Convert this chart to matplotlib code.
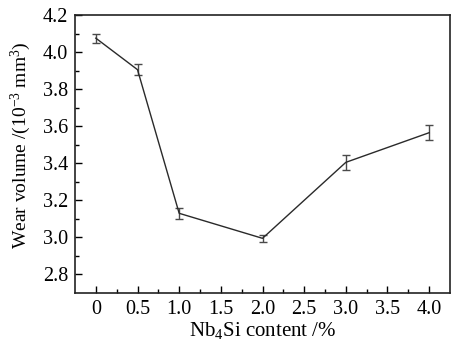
import matplotlib.pyplot as plt

# Nb4Si content (%) and wear volume (10^-3 mm^3)
content = [0, 0.5, 1.0, 2.0, 3.0, 4.0]
wear_volume = [4.075, 3.905, 3.13, 2.995, 3.405, 3.565]
wear_error = [0.025, 0.03, 0.03, 0.02, 0.04, 0.04]

x_ticks = [0, 0.5, 1.0, 1.5, 2.0, 2.5, 3.0, 3.5, 4.0]
x_labels = ["0", "0.5", "1.0", "1.5", "2.0", "2.5", "3.0", "3.5", "4.0"]
y_ticks = [2.8, 3.0, 3.2, 3.4, 3.6, 3.8, 4.0, 4.2]

plt.rcParams["font.family"] = ["Liberation Serif", "DejaVu Serif"]
plt.rcParams["mathtext.fontset"] = "custom"
plt.rcParams["mathtext.rm"] = "Liberation Serif"
plt.rcParams["mathtext.it"] = "Liberation Serif:italic"

fig = plt.figure(figsize=(4.59, 3.45), dpi=100)
ax = fig.add_axes([75 / 459, 1 - 293 / 345, 375 / 459, 278 / 345])

ax.errorbar(content, wear_volume, yerr=wear_error, color="#2a2a2a", lw=1.0,
            ecolor="#4a4a4a", elinewidth=1.0, capsize=3.2, capthick=1.0)

ax.set_xlim(-0.25, 4.25)
ax.set_ylim(2.7, 4.2)
ax.set_xticks(x_ticks)
ax.set_xticklabels(x_labels)
ax.set_xticks([0.25, 0.75, 1.25, 1.75, 2.25, 2.75, 3.25, 3.75], minor=True)
ax.set_yticks(y_ticks)
ax.set_yticks([2.9, 3.1, 3.3, 3.5, 3.7, 3.9, 4.1], minor=True)

ax.tick_params(direction="in", which="major", length=5, width=1.0,
               labelsize=14.5, top=False, right=False, pad=5)
ax.tick_params(direction="in", which="minor", length=3, width=1.0,
               top=False, right=False)
for s in ax.spines.values():
    s.set_linewidth(1.2)
    s.set_color("#222222")

ax.set_xlabel(r"Nb$_\mathrm{4}$Si content /%", fontsize=15, labelpad=1)
ax.set_ylabel(r"Wear volume /(10$^{\mathrm{-3}}$ mm$^\mathrm{3}$)", fontsize=14)
ax.yaxis.set_label_coords(-0.112, 0.53)

fig.savefig("out.png", dpi=100)
